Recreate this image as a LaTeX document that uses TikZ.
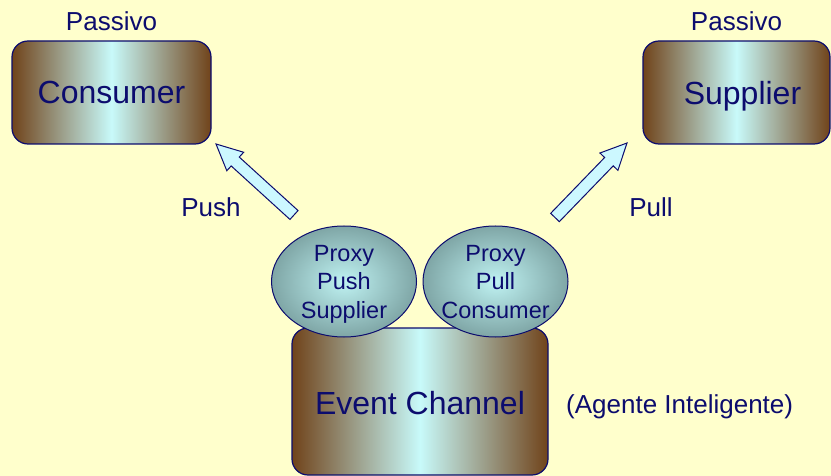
\documentclass[tikz,border=0pt]{standalone}
\usepackage{fontspec}
\setmainfont{Liberation Sans}
\usetikzlibrary{calc, positioning, shapes.geometric}
\definecolor{bgyellow}{HTML}{FFFFCC}
\definecolor{boxbrown}{HTML}{70431A}
\definecolor{boxcyan}{HTML}{C8FAFA}
\definecolor{proxyin}{HTML}{BFF2F2}
\definecolor{proxyout}{HTML}{7FA6A6}
\definecolor{navy}{HTML}{0C0C6E}
\definecolor{arrowfill}{HTML}{CCF8FF}

\begin{document}
\begin{tikzpicture}[x=1pt, y=-1pt,
    agent/.style={draw=navy, line width=1.2pt, rounded corners=16pt, left color=boxbrown, right color=boxbrown, middle color=boxcyan, text=navy, font=\fontsize{32}{38}\selectfont, inner sep=0pt, text depth=0pt},
    proxy/.style={ellipse, draw=navy, line width=1pt, inner color=proxyin, outer color=proxyout, minimum width=145pt, minimum height=111pt, inner xsep=-30pt, inner ysep=-12pt, align=center, text depth=0pt, text=navy, font=\fontsize{23.5}{28.5}\selectfont},
    note/.style={text=navy, inner sep=0pt, font=\fontsize{26}{30}\selectfont},
    fatarrow/.style={draw=navy, line width=1pt, fill=arrowfill, line join=miter}
]
\fill[bgyellow] (0,0) rectangle (831,476);
\useasboundingbox (0,0) rectangle (831,476);

% passive ends
\node[agent, minimum width=199pt, minimum height=103pt] (consumer) at (111.5,92.5) {Consumer};
\node[agent, minimum width=187pt, minimum height=103pt] (supplier) at (736.5,92.5) {\hspace{12pt}Supplier};
\node[note, above=9pt of consumer] (passivoc) {Passivo};
\node[note, above=9pt of supplier] (passivos) {Passivo};

% channel with its proxies
\node[agent, minimum width=256pt, minimum height=147pt] (channel) at (420,401.5) {\raisebox{-3pt}{Event Channel}};
\node[proxy] (pushsup) at (344,281.5) {Proxy\\Push\\Supplier};
\node[proxy] (pullcons) at (495.5,281.5) {Proxy\\Pull\\Consumer};
\node[note, anchor=west] (agente) at (566,407) {(Agente Inteligente)};

% block arrows
\coordinate (pushtail) at (294,215);
\coordinate (pushtip) at (216,144);
\coordinate (pulltail) at (555,217.5);
\coordinate (pulltip) at (627,143);
\foreach \t/\h in {pushtail/pushtip, pulltail/pulltip}{
  \coordinate (base) at ($(\h)!26pt!(\t)$);
  \draw[fatarrow] ($(\t)!6pt!90:(\h)$) -- ($(base)!6pt!90:(\h)$) -- ($(base)!12.5pt!90:(\h)$)
    -- (\h) -- ($(base)!12.5pt!-90:(\h)$) -- ($(base)!6pt!-90:(\h)$) -- ($(\t)!6pt!-90:(\h)$) -- cycle;
}
\node[note] (pushlbl) at (211,207) {Push};
\node[note] (pulllbl) at (651,207) {Pull};
\end{tikzpicture}
\end{document}
